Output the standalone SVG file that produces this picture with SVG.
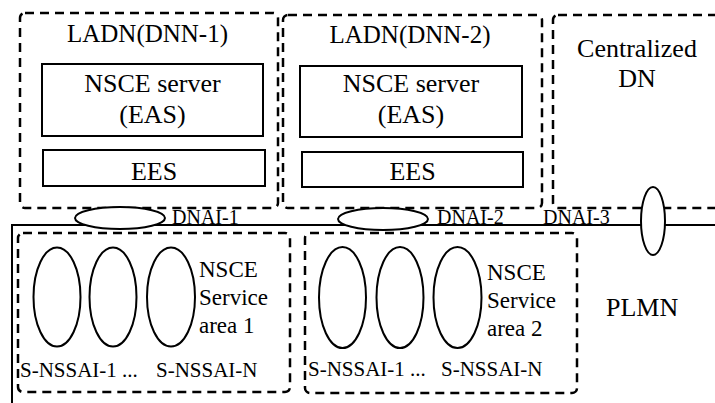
<svg xmlns="http://www.w3.org/2000/svg" width="715" height="403" viewBox="0 0 715 403">
<style>
.dash{fill:none;stroke:#000;stroke-width:2.5;stroke-dasharray:9 6}
.box{fill:#fff;stroke:#000;stroke-width:2}
.ell{fill:#fff;stroke:#000;stroke-width:2}
.line{fill:none;stroke:#000;stroke-width:2}
.big{font-size:25px;text-anchor:middle}
.lbl{font-size:26px;text-anchor:middle}
.sa{font-size:23px}
.sn{font-size:21px}
.dn{font-size:20px}
</style>
<rect width="715" height="403" fill="#fff"/>
<g font-family="'Liberation Serif', 'Times New Roman', 'DejaVu Serif', serif" fill="#000">
<g id="ladn1">
<rect class="dash" x="20" y="13" width="258" height="195" rx="5"/>
<text class="big" x="147.5" y="42">LADN(DNN-1)</text>
</g>
<g id="nsce1">
<rect class="box" x="42" y="64" width="221" height="72"/>
<text class="lbl" x="152.5" y="92">NSCE server</text>
<text class="lbl" x="152.5" y="123">(EAS)</text>
</g>
<g id="ees1">
<rect class="box" x="43" y="150" width="222" height="36"/>
<text class="lbl" x="154" y="180">EES</text>
</g>
<g id="ladn2">
<rect class="dash" x="283" y="15" width="259" height="193" rx="5"/>
<text class="big" x="410" y="43">LADN(DNN-2)</text>
</g>
<g id="nsce2">
<rect class="box" x="300" y="66" width="222" height="71"/>
<text class="lbl" x="411" y="92">NSCE server</text>
<text class="lbl" x="411" y="123">(EAS)</text>
</g>
<g id="ees2">
<rect class="box" x="302" y="152" width="221" height="35"/>
<text class="lbl" x="412.5" y="180">EES</text>
</g>
<g id="centralized">
<rect class="dash" x="553" y="15" width="200" height="193" rx="5"/>
<text class="lbl" x="637" y="57">Centralized</text>
<text class="lbl" x="637" y="87">DN</text>
</g>
<g id="plmn">
<path class="line" d="M12,403 V225 H715"/>
<text class="lbl" x="606" y="316" text-anchor="start" style="text-anchor:start">PLMN</text>
</g>
<g id="area1">
<rect class="dash" x="18" y="233" width="272" height="159" rx="5"/>
<ellipse class="ell" cx="57" cy="297" rx="23.5" ry="49.5"/>
<ellipse class="ell" cx="113" cy="297" rx="23.5" ry="49.5"/>
<ellipse class="ell" cx="171" cy="297" rx="24" ry="49.5"/>
<text class="sa" x="199" y="277">NSCE</text>
<text class="sa" x="199" y="305">Service</text>
<text class="sa" x="199" y="333">area 1</text>
<text class="sn" x="20" y="377">S-NSSAI-1 ...</text>
<text class="sn" x="156" y="377">S-NSSAI-N</text>
</g>
<g id="area2">
<rect class="dash" x="305" y="233" width="272" height="160" rx="5"/>
<ellipse class="ell" cx="342.5" cy="297.5" rx="23.5" ry="50.5"/>
<ellipse class="ell" cx="400" cy="297.5" rx="23.5" ry="50.5"/>
<ellipse class="ell" cx="457.5" cy="297.5" rx="24" ry="50.5"/>
<text class="sa" x="487" y="280">NSCE</text>
<text class="sa" x="487" y="308">Service</text>
<text class="sa" x="487" y="336">area 2</text>
<text class="sn" x="308" y="376">S-NSSAI-1 ...</text>
<text class="sn" x="441" y="376">S-NSSAI-N</text>
</g>
<g id="connectors">
<g id="dnai1">
<ellipse class="ell" cx="120" cy="218" rx="45" ry="11"/>
<text class="dn" x="172" y="224">DNAI-1</text>
</g>
<g id="dnai2">
<ellipse class="ell" cx="383" cy="219" rx="45" ry="11"/>
<text class="dn" x="437" y="224">DNAI-2</text>
</g>
<g id="dnai3">
<text class="dn" x="543" y="224">DNAI-3</text>
<ellipse class="ell" cx="653" cy="221" rx="12" ry="34"/>
</g>
</g>
</g>
</svg>
